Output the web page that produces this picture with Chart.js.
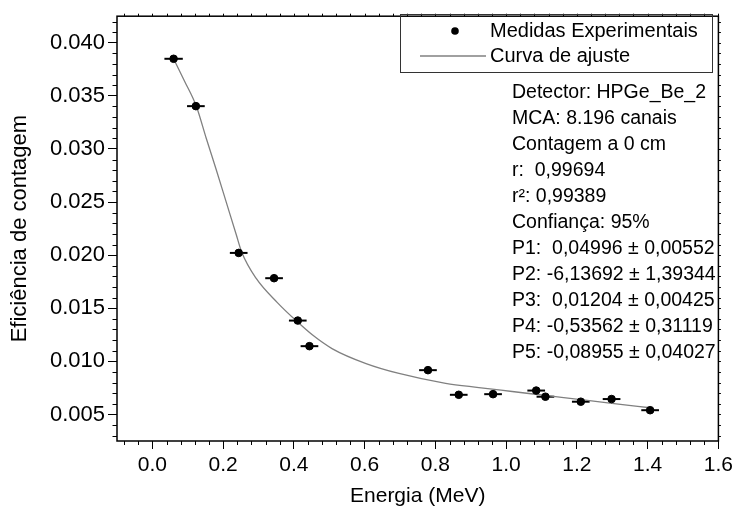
<!DOCTYPE html>
<html lang="pt">
<head>
<meta charset="utf-8">
<title>Eficiência de contagem</title>
<script src="https://cdn.jsdelivr.net/npm/chart.js@4.4.1/dist/chart.umd.min.js"></script>
<style>
  html, body { margin: 0; padding: 0; background: #fff; }
  #wrap { width: 737px; height: 518px; }
</style>
</head>
<body>
<div id="wrap"><canvas id="grafico" width="737" height="518"></canvas></div>
<script>
// Medidas experimentais (energia em MeV)
const energias = [0.060, 0.123, 0.244, 0.344, 0.411, 0.444, 0.779, 0.866, 0.963, 1.085, 1.111, 1.211, 1.298, 1.407];
const eficiencias = [0.03849, 0.03403, 0.02021, 0.01783, 0.01384, 0.01143, 0.00917, 0.00685, 0.00691, 0.00725, 0.00667, 0.00620, 0.00645, 0.00540];
const erroEnergia = [0.026, 0.025, 0.025, 0.025, 0.025, 0.025, 0.025, 0.025, 0.025, 0.025, 0.025, 0.025, 0.025, 0.025];

// Curva de ajuste
const curvaEnergia = [0.060, 0.091, 0.124, 0.152, 0.181, 0.209, 0.237, 0.252, 0.293, 0.354, 0.406, 0.452, 0.509, 0.604, 0.697, 0.829, 0.923, 1.017, 1.111, 1.205, 1.299, 1.407];
const curvaEficiencia = [0.03849, 0.03638, 0.03404, 0.03103, 0.02800, 0.02497, 0.02194, 0.02033, 0.01783, 0.01551, 0.01384, 0.01250, 0.01118, 0.00979, 0.00886, 0.00793, 0.00753, 0.00716, 0.00679, 0.00642, 0.00605, 0.00563];

// Ticks dos eixos
const ticksX = [0.0, 0.2, 0.4, 0.6, 0.8, 1.0, 1.2, 1.4, 1.6];
const ticksY = [0.005, 0.010, 0.015, 0.020, 0.025, 0.030, 0.035, 0.040];

// Texto com os parâmetros do ajuste
const infoAjuste = [
  'Detector: HPGe_Be_2',
  'MCA: 8.196 canais',
  'Contagem a 0 cm',
  'r:  0,99694',
  'r\u00B2: 0,99389',
  'Confiança: 95%',
  'P1:  0,04996 \u00B1 0,00552',
  'P2: -6,13692 \u00B1 1,39344',
  'P3:  0,01204 \u00B1 0,00425',
  'P4: -0,53562 \u00B1 0,31119',
  'P5: -0,08955 \u00B1 0,04027'
];

const fonte = "'Liberation Sans', Arial, sans-serif";
const corCurva = '#808080';

// ticks menores (a cada 0.04 em x e 0.001 em y)
const menoresX = [];
for (let i = -2; i <= 40; i++) menoresX.push(+(i * 0.04).toFixed(2));
const menoresY = [];
for (let i = 3; i <= 42; i++) menoresY.push(+(i * 0.001).toFixed(3));

const moldura = {
  id: 'moldura',
  beforeDatasetsDraw(chart) {
    const { ctx, scales: { x, y } } = chart;
    ctx.save();
    ctx.strokeStyle = '#000';
    ctx.lineWidth = 2;
    energias.forEach((e, i) => {
      const py = y.getPixelForValue(eficiencias[i]);
      ctx.beginPath();
      ctx.moveTo(x.getPixelForValue(e - erroEnergia[i]), py);
      ctx.lineTo(x.getPixelForValue(e + erroEnergia[i]), py);
      ctx.stroke();
    });
    ctx.restore();
  },
  afterDraw(chart) {
    const { ctx, chartArea: a, scales: { x, y } } = chart;
    ctx.save();
    ctx.strokeStyle = '#000';
    ctx.lineWidth = 1;
    // ticks menores e ticks de cima/direita
    ctx.beginPath();
    menoresX.forEach(v => {
      const px = Math.round(x.getPixelForValue(v)) + 0.5;
      if (Math.abs(v * 5 - Math.round(v * 5)) > 1e-6) {
        ctx.moveTo(px, a.bottom); ctx.lineTo(px, a.bottom + 4);
      }
      ctx.moveTo(px, a.top); ctx.lineTo(px, a.top - 2.5);
    });
    menoresY.forEach(v => {
      const py = Math.round(y.getPixelForValue(v)) + 0.5;
      if (Math.abs(v * 200 - Math.round(v * 200)) > 1e-6) {
        ctx.moveTo(a.left, py); ctx.lineTo(a.left - 4.5, py);
      }
      ctx.moveTo(a.right, py); ctx.lineTo(a.right + 2.5, py);
    });
    ctx.stroke();
    // moldura
    ctx.lineWidth = 1.5;
    ctx.strokeRect(a.left, a.top, a.right - a.left, a.bottom - a.top);

    // legenda
    ctx.lineWidth = 1;
    ctx.strokeStyle = '#333';
    ctx.strokeRect(400.5, 14.5, 312, 58);
    ctx.fillStyle = '#000';
    ctx.beginPath();
    ctx.arc(455, 31, 3.8, 0, Math.PI * 2);
    ctx.fill();
    ctx.strokeStyle = corCurva;
    ctx.lineWidth = 1.3;
    ctx.beginPath();
    ctx.moveTo(420, 56); ctx.lineTo(486, 56);
    ctx.stroke();
    ctx.font = '20px ' + fonte;
    ctx.textBaseline = 'middle';
    ctx.textAlign = 'left';
    ctx.fillText(chart.data.datasets[0].label, 490, 31);
    ctx.fillText(chart.data.datasets[1].label, 490, 56);

    // parâmetros do ajuste
    ctx.font = '19.5px ' + fonte;
    infoAjuste.forEach((linha, i) => {
      ctx.fillText(linha, 512, 93 + i * 26);
    });
    ctx.restore();
  }
};

Chart.defaults.color = '#000';
Chart.defaults.font.family = fonte;

const grafico = new Chart(document.getElementById('grafico'), {
  type: 'scatter',
  data: {
    datasets: [{
      label: 'Medidas Experimentais',
      data: energias.map((e, i) => ({ x: e, y: eficiencias[i] })),
      backgroundColor: '#000',
      borderColor: '#000',
      pointRadius: 3.8,
      showLine: false
    }, {
      label: 'Curva de ajuste',
      data: curvaEnergia.map((e, i) => ({ x: e, y: curvaEficiencia[i] })),
      borderColor: corCurva,
      borderWidth: 1.3,
      pointRadius: 0,
      showLine: true,
      cubicInterpolationMode: 'monotone'
    }]
  },
  options: {
    responsive: false,
    animation: false,
    layout: { padding: { top: 9, right: 17, left: 0, bottom: 0 } },
    plugins: {
      legend: { display: false },
      tooltip: { enabled: false }
    },
    scales: {
      x: {
        type: 'linear',
        min: -0.1,
        max: 1.6,
        afterBuildTicks: s => { s.ticks = ticksX.map(v => ({ value: v })); },
        afterFit: s => { s.height = 77; },
        grid: { drawOnChartArea: false, drawTicks: true, tickLength: 8, color: '#000' },
        border: { display: false },
        ticks: {
          font: { size: 21 },
          padding: 4,
          maxRotation: 0,
          callback: v => v.toFixed(1)
        },
        title: {
          display: true,
          text: 'Energia (MeV)',
          font: { size: 21 },
          padding: { top: 0, bottom: 9 }
        }
      },
      y: {
        type: 'linear',
        min: 0.0025,
        max: 0.0425,
        afterBuildTicks: s => { s.ticks = ticksY.map(v => ({ value: v })); },
        afterFit: s => { s.width = 117; },
        grid: { drawOnChartArea: false, drawTicks: true, tickLength: 9, color: '#000' },
        border: { display: false },
        ticks: {
          font: { size: 22 },
          padding: 3,
          callback: v => v.toFixed(3)
        },
        title: {
          display: true,
          text: 'Eficiência de contagem',
          font: { size: 22 },
          padding: { top: 7, bottom: 0 }
        }
      }
    }
  },
  plugins: [moldura]
});
</script>
</body>
</html>
